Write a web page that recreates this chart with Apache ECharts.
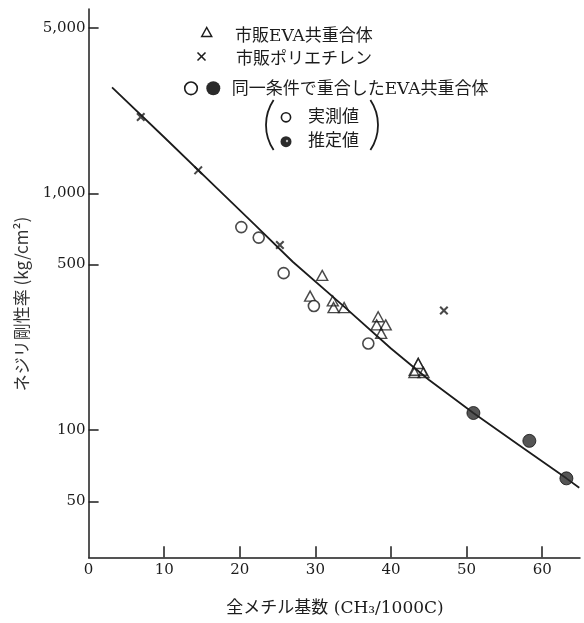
<!DOCTYPE html>
<html><head><meta charset="utf-8">
<script src="https://cdn.jsdelivr.net/npm/echarts@6/dist/echarts.min.js"></script>
<style>html,body{margin:0;padding:0;background:#fff}#c{width:584px;height:623px}</style>
</head><body><div id="c"></div>
<script>
// ---- data ----
const xTickValues = [0, 10, 20, 30, 40, 50, 60];
const yTickValues = [50, 100, 500, 1000, 5000];

// 市販ポリエチレン (×)
const peX = [6.9, 14.5, 25.3, 47.0];
const peY = [2100, 1250, 605, 320];

// 市販EVA共重合体 (△)
const evaX = [30.9, 29.3, 32.3, 32.4, 33.8, 38.3, 38.1, 39.3, 38.7, 43.6, 43.1, 44.3];
const evaY = [450, 368, 351, 329, 329, 301, 278, 278, 256, 191, 175, 175];
const evaBigX = [43.6];
const evaBigY = [185];

// 同一条件で重合したEVA共重合体 — 実測値 (○)
const measX = [20.2, 22.5, 25.8, 29.8, 37.0];
const measY = [720, 650, 460, 334, 232];

// 同一条件で重合したEVA共重合体 — 推定値 (●)
const estX = [50.9, 58.3, 63.2];
const estY = [118, 90, 62.5];

// fitted curve
const curveX = [3.1, 10, 17, 22, 27, 33.8, 40, 45, 50.9, 57, 63.2, 64.9];
const curveY = [2800, 1725, 1050, 735, 514, 332, 221, 163, 118, 86, 62.5, 57];

// ---- chart ----
const pair = (xs, ys) => xs.map((x, i) => [x, ys[i]]);
const INK = '#1c1c1c';
const NUM_FONT = '"DejaVu Serif"';
const JP_FONT = '"DejaVu Serif", "Noto Sans CJK JP"';
const JP_SANS = '"Noto Sans CJK JP"';
const crossPath = 'path://M0,1.6L1.6,0L5,3.4L8.4,0L10,1.6L6.6,5L10,8.4L8.4,10L5,6.6L1.6,10L0,8.4L3.4,5Z';

const chart = echarts.init(document.getElementById('c'), null, {renderer: 'canvas'});
const option = {
  animation: false,
  backgroundColor: '#fff',
  grid: {left: 88.6, right: 4, top: 9.1, bottom: 65.7},
  xAxis: {
    type: 'value', min: 0, max: 65,
    axisLine: {lineStyle: {color: INK, width: 1.5}},
    axisTick: {inside: true, length: 11, customValues: xTickValues.slice(1), lineStyle: {color: INK, width: 1.5}},
    axisLabel: {customValues: xTickValues, color: INK, fontFamily: NUM_FONT, fontSize: 15, margin: 5},
    splitLine: {show: false}
  },
  yAxis: {
    type: 'log', logBase: 10, min: 29, max: 6000,
    axisLine: {lineStyle: {color: INK, width: 1.5}},
    axisTick: {inside: true, length: 10, customValues: yTickValues, lineStyle: {color: INK, width: 1.5}},
    axisLabel: {
      customValues: yTickValues, margin: 3, color: INK, fontFamily: NUM_FONT, fontSize: 15,
      formatter: v => Math.round(v).toLocaleString('en-US')
    },
    splitLine: {show: false},
    minorTick: {show: false}
  },
  series: [
    {type: 'line', data: pair(curveX, curveY), showSymbol: false, smooth: false,
     lineStyle: {color: INK, width: 1.8}, z: 1, silent: true},
    {type: 'scatter', data: pair(peX, peY), symbol: crossPath, symbolSize: 9,
     itemStyle: {color: INK}, z: 3},
    {type: 'scatter', data: pair(evaBigX, evaBigY), symbol: 'triangle', symbolSize: [18, 17],
     itemStyle: {color: 'rgba(0,0,0,0)', borderColor: INK, borderWidth: 1.4}, z: 2},
    {type: 'scatter', data: pair(evaX, evaY), symbol: 'triangle', symbolSize: [11, 10],
     itemStyle: {color: 'rgba(0,0,0,0)', borderColor: INK, borderWidth: 1.4}, z: 3},
    {type: 'scatter', data: pair(measX, measY), symbol: 'circle', symbolSize: 11,
     itemStyle: {color: '#fff', borderColor: INK, borderWidth: 1.6}, z: 3},
    {type: 'scatter', data: pair(estX, estY), symbol: 'circle', symbolSize: 13,
     itemStyle: {color: '#2a2a2a', borderColor: '#111', borderWidth: 1}, z: 3}
  ],
  graphic: [
    // legend row 1: △ 市販EVA共重合体
    {type: 'polygon', shape: {points: [[201.7, 36.5], [206.7, 27.5], [211.7, 36.5]]},
     style: {fill: 'none', stroke: INK, lineWidth: 1.5}},
    {type: 'text', x: 235, y: 37, style: {text: '市販EVA共重合体', fontFamily: JP_FONT, fontSize: 17, fill: INK, verticalAlign: 'middle'}},
    // row 2: × 市販ポリエチレン
    {type: 'line', shape: {x1: 197.5, y1: 52.5, x2: 205.5, y2: 60.5}, style: {stroke: INK, lineWidth: 1.6}},
    {type: 'line', shape: {x1: 205.5, y1: 52.5, x2: 197.5, y2: 60.5}, style: {stroke: INK, lineWidth: 1.6}},
    {type: 'text', x: 236, y: 60, style: {text: '市販ポリエチレン', fontFamily: JP_FONT, fontSize: 17, fill: INK, verticalAlign: 'middle'}},
    // row 3: ○● 同一条件で重合したEVA共重合体
    {type: 'circle', shape: {cx: 191, cy: 88.3, r: 6.3}, style: {fill: '#fff', stroke: INK, lineWidth: 1.6}},
    {type: 'circle', shape: {cx: 213.3, cy: 88.3, r: 7}, style: {fill: '#2a2a2a'}},
    {type: 'text', x: 231.7, y: 90, style: {text: '同一条件で重合したEVA共重合体', fontFamily: JP_FONT, fontSize: 17, fill: INK, verticalAlign: 'middle'}},
    // parentheses
    {type: 'arc', shape: {cx: 311, cy: 125, r: 45, startAngle: Math.PI - 0.59, endAngle: Math.PI + 0.59, clockwise: true},
     style: {fill: 'none', stroke: INK, lineWidth: 1.8}},
    {type: 'arc', shape: {cx: 333, cy: 125, r: 45, startAngle: -0.59, endAngle: 0.59, clockwise: true},
     style: {fill: 'none', stroke: INK, lineWidth: 1.8}},
    {type: 'circle', shape: {cx: 286, cy: 117.3, r: 4.6}, style: {fill: '#fff', stroke: INK, lineWidth: 1.6}},
    {type: 'text', x: 308, y: 117.5, style: {text: '実測値', fontFamily: JP_FONT, fontSize: 17, fill: INK, verticalAlign: 'middle'}},
    {type: 'circle', shape: {cx: 286, cy: 141.7, r: 5.5}, style: {fill: '#2a2a2a'}},
    {type: 'circle', shape: {cx: 287, cy: 141, r: 1.2}, style: {fill: '#bbb'}},
    {type: 'text', x: 308, y: 142, style: {text: '推定値', fontFamily: JP_FONT, fontSize: 17, fill: INK, verticalAlign: 'middle'}},
    // axis titles
    {type: 'text', x: 22, y: 304, rotation: Math.PI / 2,
     style: {text: 'ネジリ剛性率 (kg/cm²)', fontFamily: JP_SANS, fontSize: 17, fill: '#333', align: 'center', verticalAlign: 'middle'}},
    {type: 'text', x: 335, y: 609,
     style: {text: '全メチル基数 (CH₃/1000C)', fontFamily: JP_FONT, fontSize: 17, fill: INK, align: 'center', verticalAlign: 'middle'}}
  ]
};
chart.setOption(option);
</script>
</body></html>
